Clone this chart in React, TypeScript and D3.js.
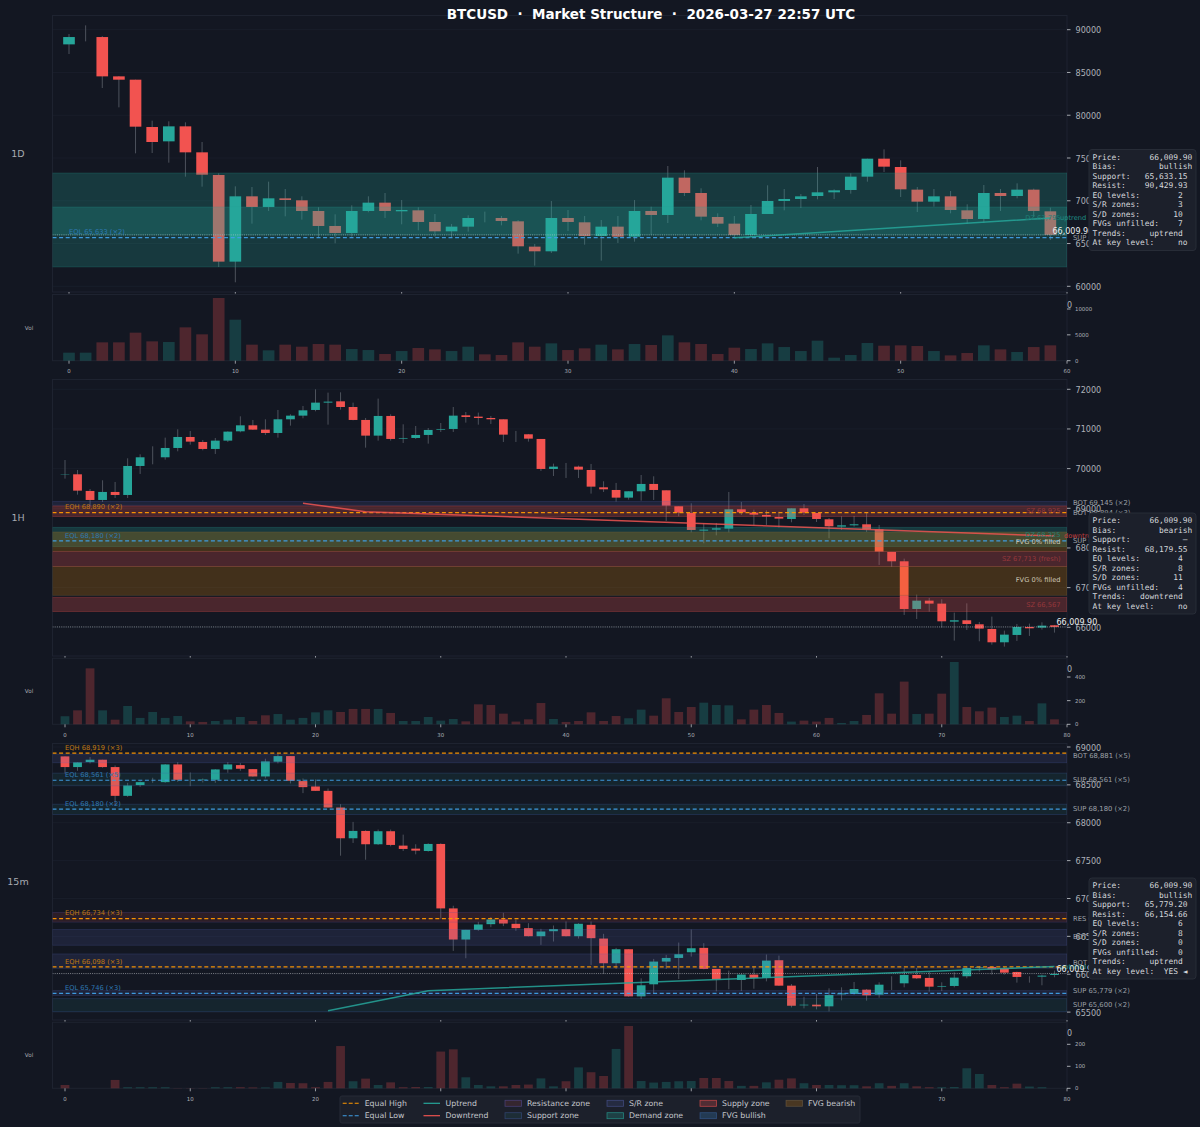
import React from 'react';
import * as d3 from 'd3';

// ---------- 1D ----------
const open1D = [88285,89142,89142,84545,84156,78623,76948,78701,75662,73013,62883,70519,69273,70286,70052,68805,67052,66234,68805,69779,68766,68883,67520,66428,66974,67987,67987,67597,64636,64091,67987,67481,65883,66974,65805,68805,68338,72701,70909,68104,67325,66000,68454,69974,70208,70558,70987,71260,72818,74922,73948,71299,69896,70519,68883,67870,70909,70558,71299,68766];
const high1D = [89493,90506,89259,84584,84156,79364,79286,79169,76870,73208,71688,71610,72234,71377,70519,69234,68415,69467,70519,70909,70091,69234,68454,67286,68299,68727,68221,67753,64948,69974,68922,68221,67753,68221,70091,69311,74065,73558,71455,68532,68221,69506,71805,71377,70792,73948,71338,73208,74922,76013,74727,71610,71377,71143,69584,71844,71377,72039,71416,69194];
const low1D = [87155,88636,83182,80922,75545,75584,74454,72818,71649,62260,60467,67325,68805,68182,67792,65649,65026,65805,68649,67987,67247,66545,65805,65688,66390,67481,67130,63818,62415,63896,66467,64870,62999,65065,65220,66040,67403,70558,67714,66935,65727,65766,68454,68883,69156,70169,70208,70831,72234,73363,70442,68688,69311,68532,67325,67403,68805,70286,68143,65416];
const close1D = [89142,89142,84545,84156,78662,76870,78701,75662,73052,62883,70519,69273,70286,70091,68805,67052,66234,68805,69779,68805,68922,67520,66428,66974,67987,67987,67637,64675,64091,67987,67520,65883,66974,65805,68805,68338,72701,70909,68143,67325,66000,68454,69974,70208,70519,70987,71221,72818,74922,73987,71338,69896,70519,68922,67870,70909,70558,71299,68805,66010];
const vol1D = [1550,1550,3550,3550,5420,3740,3610,6450,5100,12130,7930,3100,2000,3100,2710,3225,3100,2260,2060,1290,1870,2450,2190,1870,2710,1225,1100,3550,2710,3350,2060,2390,3100,2190,3225,3030,4900,3550,3225,1290,2515,2260,3350,2640,1870,3870,580,1100,3420,2900,2970,2840,1870,1030,1480,2970,2190,1680,2640,2970];
const volUp1D = [1,1,0,0,0,0,1,0,0,0,1,0,1,0,0,0,0,1,1,0,1,0,0,1,1,0,0,0,0,1,0,0,1,0,1,0,1,0,0,0,0,1,1,1,1,1,1,1,1,0,0,0,1,0,0,1,0,1,0,0];

// ---------- 1H ----------
const open1H = [69849,69857,69437,69210,69412,69336,70067,70286,70286,70521,70798,70672,70496,70706,70941,71092,70983,70899,71244,71336,71479,71664,71697,71554,71227,70832,71328,70756,70773,70849,70975,71000,71344,71311,71277,71244,70857,70866,70748,69992,70050,70050,69966,69529,69462,69269,69429,69614,69454,69050,68882,68437,68462,68487,68975,68891,68832,68781,68731,69000,68882,68723,68538,68571,68597,68470,67899,67664,66462,66672,66597,66143,66177,66076,65958,65622,65807,66008,65992,66051];
const high1H = [70218,69966,69487,69706,69664,70260,70361,70563,70781,70992,70950,70723,70773,70941,71319,71227,71244,71479,71370,71580,72000,71916,71924,71664,71277,71765,71370,71118,71075,71025,71151,71554,71428,71412,71328,71244,70950,70874,70748,70126,70143,70076,70118,69681,69639,69429,69840,69807,69454,69050,69126,68622,68630,69412,69160,68966,68950,68916,69000,69109,68882,68756,68798,68807,68891,68580,67899,67731,66824,66740,66706,66370,66604,66135,66269,65916,66084,66093,66126,66059];
const low1H = [69748,69344,69042,69160,69260,69260,69866,70109,70227,70437,70605,70462,70370,70672,70916,70975,70849,70781,71084,71269,71445,71109,71487,71218,70529,70706,70706,70647,70748,70630,70924,70924,71160,71109,71126,70672,70672,70681,69941,69815,69765,69765,69370,69412,69168,69218,69193,69210,68681,68798,68395,68118,68319,68395,68832,68563,68580,68513,68647,68832,68655,68244,68454,68538,68403,67572,67521,66311,66210,66395,65992,65664,65933,65647,65563,65513,65656,65782,65942,65866];
const close1H = [69857,69445,69210,69412,69336,70067,70286,70286,70521,70798,70681,70496,70706,70933,71092,70983,70899,71244,71336,71470,71664,71689,71554,71227,70832,71328,70748,70773,70849,70975,70992,71336,71302,71277,71244,70857,70857,70756,69992,70050,70050,69975,69546,69479,69269,69429,69614,69462,69067,68891,68454,68462,68496,68975,68899,68840,68790,68740,69000,68891,68731,68546,68571,68597,68470,67908,67664,66462,66672,66597,66151,66177,66084,65967,65622,65815,66008,65975,66042,66010];
const vol1H = [68,118,473,118,39,155,54,104,54,70,25,20,28,39,62,28,76,87,39,54,101,118,104,130,130,130,96,28,28,62,31,45,25,169,163,90,23,42,180,45,20,28,101,28,70,51,124,73,220,104,146,183,163,160,42,124,163,96,23,31,23,54,11,28,79,262,90,361,87,90,259,527,146,110,141,62,73,28,177,42];
const volUp1H = [1,0,0,1,0,1,1,1,1,1,0,0,1,1,1,0,0,1,1,1,1,1,0,0,0,1,0,1,1,1,1,1,0,0,0,0,0,0,0,1,0,0,0,0,0,1,1,0,0,0,0,1,1,1,0,0,0,0,1,0,0,0,1,1,0,0,0,0,1,0,0,1,0,0,0,1,1,0,1,0];

// ---------- 15m ----------
const open15 = [68876,68735,68801,68832,68735,68355,68497,68536,68536,68770,68567,68567,68567,68704,68761,68708,68611,68806,68880,68550,68479,68421,68201,67795,67892,67716,67888,67698,67658,67627,67720,66869,66458,66586,66661,66723,66666,66608,66502,66568,66595,66502,66652,66471,66145,66330,65708,65867,66167,66215,66290,66348,66070,65933,65924,65995,65951,66185,65849,65589,65598,65576,65734,65739,65796,65730,65862,65880,65990,65951,65836,65845,65973,66083,66096,66079,66030,65964,65968,65990];
const high15 = [68876,68797,68867,68832,68757,68527,68545,68594,68775,68801,68664,68585,68708,68801,68788,68708,68845,68907,68880,68585,68572,68452,68245,68011,67901,67910,67910,67843,67716,67729,67729,66904,66586,66692,66754,66811,66723,66674,66599,66643,66696,66674,66696,66533,66348,66330,65946,66202,66255,66418,66590,66410,66070,66048,66004,66101,66260,66246,65871,65703,65739,65814,65827,65898,65805,65893,65973,66083,66083,66039,65893,66026,66092,66109,66101,66092,66034,65973,65995,66048];
const low15 = [68651,68686,68783,68726,68232,68342,68474,68527,68527,68541,68483,68532,68527,68660,68686,68607,68585,68783,68519,68391,68421,68201,67565,67733,67512,67707,67689,67627,67583,67618,66732,66308,66211,66573,66621,66635,66573,66498,66388,66432,66498,66471,66123,66004,66070,65703,65673,65743,66070,65937,66233,66065,65774,65801,65779,65809,65906,65845,65562,65549,65536,65509,65655,65730,65651,65690,65792,65827,65937,65770,65779,65827,65946,66034,65995,65995,65889,65889,65854,65960];
const close15 = [68735,68797,68832,68735,68355,68492,68536,68536,68770,68567,68567,68572,68704,68770,68713,68611,68810,68880,68554,68470,68421,68201,67795,67892,67716,67888,67707,67654,67632,67720,66869,66458,66586,66657,66723,66670,66608,66502,66564,66595,66502,66666,66476,66145,66330,65708,65854,66167,66215,66264,66343,66070,65933,65933,65995,65951,66180,65849,65584,65598,65576,65726,65748,65805,65721,65862,65862,65990,65946,65836,65845,65955,66083,66092,66065,66021,65964,65964,65982,66004];
const vol15 = [15,0,0,0,38,5,5,5,5,1,1,1,5,5,5,4,4,29,24,23,5,29,192,32,44,15,27,5,6,6,167,177,50,15,9,9,15,17,45,9,32,95,73,56,179,283,33,26,29,32,33,47,47,33,11,11,27,39,45,23,15,15,14,14,9,23,11,23,9,5,5,6,91,65,15,5,21,8,5,0];
const volUp15 = [0,0,0,0,0,1,1,1,1,0,0,0,1,1,0,0,1,1,0,0,0,0,0,1,0,1,0,0,0,1,0,0,1,1,1,0,0,0,1,1,0,1,0,0,1,0,1,1,1,1,1,0,0,0,1,0,1,0,0,1,0,1,1,1,0,1,0,1,0,0,1,1,1,1,0,0,0,1,1,0];

// ---------- overlays ----------
const zones1D = [{ lo: 62260, hi: 73247, kind: 'demand' }, { lo: 66000, hi: 69273, kind: 'demand' }];
const zones1H = [
  { lo: 69076, hi: 69176, kind: 'sr' }, { lo: 68790, hi: 69059, kind: 'supply' },
  { lo: 68034, hi: 68521, kind: 'demand' }, { lo: 67916, hi: 68403, kind: 'fvgBear' },
  { lo: 67530, hi: 67908, kind: 'supply' }, { lo: 66807, hi: 67530, kind: 'fvgBear' },
  { lo: 66395, hi: 66757, kind: 'supply' },
];
const zones15 = [
  { lo: 68792, hi: 68907, kind: 'sr' }, { lo: 68488, hi: 68655, kind: 'support' },
  { lo: 68108, hi: 68245, kind: 'support' }, { lo: 66688, hi: 66816, kind: 'resistance' },
  { lo: 66383, hi: 66590, kind: 'sr' }, { lo: 66079, hi: 66268, kind: 'sr' },
  { lo: 65721, hi: 65783, kind: 'sr' }, { lo: 65505, hi: 65677, kind: 'support' },
];
const eq1D = [{ price: 65688, kind: 'low', label: 'EQL 65,633 (×2)' }];
const eq1H = [
  { price: 68890, kind: 'high', label: 'EQH 68,890 (×2)' },
  { price: 68180, kind: 'low', label: 'EQL 68,180 (×2)' },
];
const eq15 = [
  { price: 68919, kind: 'high', label: 'EQH 68,919 (×3)' },
  { price: 68561, kind: 'low', label: 'EQL 68,561 (×5)' },
  { price: 68180, kind: 'low', label: 'EQL 68,180 (×2)' },
  { price: 66734, kind: 'high', label: 'EQH 66,734 (×3)' },
  { price: 66098, kind: 'high', label: 'EQH 66,098 (×3)' },
  { price: 65746, kind: 'low', label: 'EQL 65,746 (×3)' },
];
const trend1D = [[40, 65688], [42, 65920], [59, 67987]];
const trend1H = [[19, 69126], [24, 68916], [79, 68302]];
const trend15 = [[21, 65518], [29, 65783], [79, 66101]];
const sideLabels1D = [{ price: 65633, text: 'SUP 65,633 (×2)' }];
const sideLabels1H = [
  { price: 69145, text: 'BOT 69,145 (×2)' }, { price: 68894, text: 'BOT 68,894 (×3)' },
  { price: 68180, text: 'SUP 68,180 (×2)' },
];
const sideLabels15 = [
  { price: 68881, text: 'BOT 68,881 (×5)' }, { price: 68561, text: 'SUP 68,561 (×5)' },
  { price: 68180, text: 'SUP 68,180 (×2)' }, { price: 66734, text: 'RES 66,734 (×3)' },
  { price: 66487, text: 'BOT 66,487 (×2)' }, { price: 66154, text: 'BOT 66,154 (×3)' },
  { price: 65779, text: 'SUP 65,779 (×2)' }, { price: 65600, text: 'SUP 65,600 (×2)' },
];
const zoneLabels1D = [{ price: 67987, text: 'DZ 67,795', kind: 'demand' }];
const zoneLabels1H = [
  { price: 68925, text: 'SZ 68,925', kind: 'supply' },
  { price: 68325, text: 'DZ 68,325', kind: 'demand' },
  { price: 68150, text: 'FVG 0% filled', kind: 'fvg' },
  { price: 67713, text: 'SZ 67,713 (fresh)', kind: 'supply' },
  { price: 67180, text: 'FVG 0% filled', kind: 'fvg' },
  { price: 66567, text: 'SZ 66,567', kind: 'supply' },
];
const info1D = ['Price:      66,009.90', 'Bias:         bullish', 'Support:   65,633.15', 'Resist:    90,429.93', 'EQ levels:        2', 'S/R zones:        3', 'S/D zones:       10', 'FVGs unfilled:    7', 'Trends:     uptrend', 'At key level:     no'];
const info1H = ['Price:      66,009.90', 'Bias:         bearish', 'Support:           —', 'Resist:    68,179.55', 'EQ levels:        4', 'S/R zones:        8', 'S/D zones:       11', 'FVGs unfilled:    4', 'Trends:   downtrend', 'At key level:     no'];
const info15 = ['Price:      66,009.90', 'Bias:         bullish', 'Support:   65,779.20', 'Resist:    66,154.66', 'EQ levels:        6', 'S/R zones:        8', 'S/D zones:        0', 'FVGs unfilled:    0', 'Trends:     uptrend', 'At key level:  YES ◄'];
const lastPrice = 66009.9;
const titleText = 'BTCUSD  ·  Market Structure  ·  2026-03-27 22:57 UTC';

const legendItems = [
  [{ t: 'Equal High', k: 'eqh' }, { t: 'Equal Low', k: 'eql' }],
  [{ t: 'Uptrend', k: 'up' }, { t: 'Downtrend', k: 'down' }],
  [{ t: 'Resistance zone', k: 'resistance' }, { t: 'Support zone', k: 'support' }],
  [{ t: 'S/R zone', k: 'sr' }, { t: 'Demand zone', k: 'demand' }],
  [{ t: 'Supply zone', k: 'supply' }, { t: 'FVG bullish', k: 'fvgBull' }],
  [{ t: 'FVG bearish', k: 'fvgBear' }],
];

// ---------- styling ----------
const BG = '#131722';
const UP = '#26a69a';
const DOWN = '#f25350';
const GRID = '#1b202c';
const FRAME = '#1e2330';
const TICK = '#adb1b8';
const SANS = '"DejaVu Sans", sans-serif';
const MONO = '"DejaVu Sans Mono", monospace';
const zoneStyle: Record<string, { fill: string; stroke: string }> = {
  demand: { fill: 'rgba(38,166,154,0.24)', stroke: 'rgba(38,166,154,0.25)' },
  supply: { fill: 'rgba(239,83,80,0.25)', stroke: 'rgba(239,83,80,0.3)' },
  fvgBear: { fill: 'rgba(255,152,0,0.2)', stroke: 'rgba(120,100,60,0.4)' },
  fvgBull: { fill: 'rgba(66,165,245,0.2)', stroke: 'rgba(66,120,200,0.4)' },
  sr: { fill: 'rgba(92,107,192,0.15)', stroke: 'rgba(92,107,192,0.25)' },
  support: { fill: 'rgba(38,166,154,0.1)', stroke: 'rgba(70,100,180,0.3)' },
  resistance: { fill: 'rgba(239,83,80,0.12)', stroke: 'rgba(92,80,160,0.3)' },
};
const zoneTextColor: Record<string, string> = { supply: '#97383c', demand: '#1f7f78', fvg: '#cfc8b6' };

const X_LEFT = 52.5;
const X_RIGHT = 1067;

type PanelProps = {
  label: string; o: number[]; h: number[]; l: number[]; c: number[]; v: number[]; vUp: number[];
  maxIdx: number;
  top: number; bottom: number; volTop: number; volBottom: number;
  priceDomain: [number, number]; priceRange: [number, number]; priceTicks: number[];
  volDomain: [number, number]; volRange: [number, number]; volTicks: number[];
  zones: { lo: number; hi: number; kind: string }[];
  eq: { price: number; kind: string; label: string }[];
  trend: number[][]; trendDir: 'up' | 'down';
  side: { price: number; text: string }[];
  zoneLabels: { price: number; text: string; kind: string }[];
  priceLabelY: number; priceLabelX: number;
};

function Panel(p: PanelProps) {
  const x = d3.scaleLinear().domain([0, p.maxIdx]).range([p.maxIdx === 60 ? 69 : 65, X_RIGHT]);
  const y = d3.scaleLinear().domain(p.priceDomain).range(p.priceRange);
  const yv = d3.scaleLinear().domain(p.volDomain).range(p.volRange);
  const step = x(1) - x(0);
  const bw = step * 0.7;
  const xTicks = d3.range(0, p.maxIdx + 1, 10);
  const clipId = 'clip' + p.label;
  const w = X_RIGHT - X_LEFT;
  const trendPath = d3.line<number[]>().x((d) => x(d[0])).y((d) => y(d[1]))(p.trend) || '';
  const lastT = p.trend[p.trend.length - 1];
  const tcol = p.trendDir === 'up' ? UP : '#ef5350';
  return (
    <g>
      <clipPath id={clipId}><rect x={X_LEFT} y={p.top} width={w} height={p.bottom - p.top} /></clipPath>
      {/* grid */}
      {p.priceTicks.map((t) => (
        <line key={t} x1={X_LEFT} x2={X_RIGHT} y1={y(t)} y2={y(t)} stroke={GRID} strokeWidth={0.8} />
      ))}
      <rect x={X_LEFT} y={p.top} width={w} height={p.bottom - p.top} fill="none" stroke={FRAME} />
      <rect x={X_LEFT} y={p.volTop} width={w} height={p.volBottom - p.volTop} fill="none" stroke={FRAME} />
      {/* candles */}
      <g clipPath={`url(#${clipId})`}>
        {p.o.map((open, i) => {
          const close = p.c[i];
          const up = close >= open;
          const col = up ? UP : DOWN;
          const t = y(Math.max(open, close));
          const b = y(Math.min(open, close));
          return (
            <g key={i}>
              <line x1={x(i)} x2={x(i)} y1={y(p.h[i])} y2={y(p.l[i])} stroke="#4d525c" strokeWidth={1} />
              {b - t > 0 && <rect x={x(i) - bw / 2} y={t} width={bw} height={b - t} fill={col} />}
            </g>
          );
        })}
        {/* zones */}
        {p.zones.map((z, i) => (
          <rect key={i} x={X_LEFT} width={w} y={y(z.hi)} height={y(z.lo) - y(z.hi)}
            fill={zoneStyle[z.kind].fill} stroke={zoneStyle[z.kind].stroke} strokeWidth={0.8} />
        ))}
        {/* last price */}
        <line x1={X_LEFT} x2={X_RIGHT} y1={y(lastPrice)} y2={y(lastPrice)} stroke="#d6d8dc" strokeOpacity={0.6} strokeWidth={0.9} strokeDasharray="1 1.2" />
        {/* equal levels */}
        {p.eq.map((e, i) => (
          <g key={i}>
            <line x1={X_LEFT} x2={X_RIGHT} y1={y(e.price)} y2={y(e.price)}
              stroke={e.kind === 'high' ? '#ff9800' : '#3f9fe6'} strokeOpacity={0.95} strokeWidth={1.2} strokeDasharray="4 2.6" />
          </g>
        ))}
        {/* trend */}
        <path d={trendPath} fill="none" stroke={tcol} strokeOpacity={0.85} strokeWidth={1.5} />
      </g>
      {p.eq.map((e, i) => (
        <text key={i} x={x(0)} y={y(e.price) - 3.2} fontFamily={SANS} fontSize={6.7}
          fill={e.kind === 'high' ? '#c07a12' : '#2f7ab5'}>{e.label}</text>
      ))}
      {p.zoneLabels.map((z, i) => (
        <text key={i} x={1060.5} y={y(z.price)} textAnchor="end" dominantBaseline="central" fontFamily={SANS} fontSize={6.7}
          fill={zoneTextColor[z.kind]}>{z.text}</text>
      ))}
      <text x={p.trendDir === 'up' ? 1060 : 1064} y={y(lastT[1]) + 0.5} dominantBaseline="central" fontFamily={SANS} fontSize={6.7}
        fill={p.trendDir === 'up' ? '#1f8f85' : '#c23f3f'}>{p.trendDir === 'up' ? 'uptrend' : 'downtrend'}</text>
      {/* y axis */}
      {p.priceTicks.map((t) => (
        <g key={t}>
          <line x1={X_RIGHT} x2={X_RIGHT + 3.5} y1={y(t)} y2={y(t)} stroke="#c8cbd0" strokeWidth={0.8} />
          <text x={X_RIGHT + 8.5} y={y(t) + 0.5} dominantBaseline="central" fontFamily={SANS} fontSize={8.1} fill={TICK}>{t}</text>
        </g>
      ))}
      {p.side.map((s, i) => (
        <text key={i} x={1073} y={y(s.price)} dominantBaseline="central" fontFamily={SANS} fontSize={6.8} fill="#9da1a8">{s.text}</text>
      ))}
      <text x={p.priceLabelX} y={p.priceLabelY} dominantBaseline="central" fontFamily={SANS} fontSize={8} fill="#eceef0">66,009.90</text>
      {/* panel name */}
      <text x={18} y={(p.top + p.bottom) / 2} textAnchor="middle" dominantBaseline="central" fontFamily={SANS} fontSize={9.5} fill="#a6aab1">{p.label}</text>
      {/* x ticks on main */}
      {xTicks.map((t) => (
        <line key={t} x1={x(t)} x2={x(t)} y1={p.bottom} y2={p.bottom + 1.6} stroke="#b8bbc0" strokeWidth={0.8} />
      ))}
      {/* volume */}
      {p.v.map((val, i) => (
        <rect key={i} x={x(i) - bw / 2} y={yv(val)} width={bw} height={yv(0) - yv(val)}
          fill={p.vUp[i] ? UP : DOWN} fillOpacity={0.27} />
      ))}
      {xTicks.map((t) => (
        <g key={t}>
          <line x1={x(t)} x2={x(t)} y1={p.volBottom} y2={p.volBottom + 3} stroke="#b8bbc0" strokeWidth={0.8} />
          <text x={x(t)} y={p.volBottom + 10.5} textAnchor="middle" dominantBaseline="central" fontFamily={SANS} fontSize={5.4} fill={TICK}>{t}</text>
        </g>
      ))}
      {p.volTicks.map((t) => (
        <g key={t}>
          <line x1={X_RIGHT} x2={X_RIGHT + 3.5} y1={yv(t)} y2={yv(t)} stroke="#c8cbd0" strokeWidth={0.8} />
          <text x={X_RIGHT + 8} y={yv(t)} dominantBaseline="central" fontFamily={SANS} fontSize={5.4} fill={TICK}>{t}</text>
        </g>
      ))}
      <text x={X_RIGHT} y={p.volTop + 10.8} dominantBaseline="central" fontFamily={SANS} fontSize={8} fill={TICK}>0</text>
      <text x={29} y={(p.volTop + p.volBottom) / 2} textAnchor="middle" dominantBaseline="central" fontFamily={SANS} fontSize={5.6} fill="#a6aab1">Vol</text>
    </g>
  );
}

function InfoBox({ lines, top }: { lines: string[]; top: number }) {
  const lineH = 9.5;
  return (
    <g>
      <rect x={1089} y={top} width={107} height={101} rx={3} fill="#1c202b" stroke="#272c37" strokeWidth={1} />
      {lines.map((s, i) => (
        <text key={i} x={1092.5} y={top + 7.7 + i * lineH} dominantBaseline="central" fontFamily={MONO} fontSize={7.9}
          fill="#d6d8dc" style={{ whiteSpace: 'pre' }} xmlSpace="preserve">{s}</text>
      ))}
    </g>
  );
}

function Legend() {
  const colX = [342.7, 423.5, 505, 607, 700, 786];
  const rowY = [1103.3, 1115.7];
  return (
    <g>
      <rect x={340} y={1096} width={520} height={27} rx={2} fill="#1c202b" stroke="#262b36" />
      {legendItems.map((col, ci) => col.map((it, ri) => {
        const x0 = colX[ci];
        const yy = rowY[ri];
        let handle;
        if (it.k === 'eqh' || it.k === 'eql') {
          handle = <line x1={x0} x2={x0 + 16.5} y1={yy} y2={yy} stroke={it.k === 'eqh' ? '#ff9800' : '#3f9fe6'} strokeWidth={1.1} strokeDasharray="4 2" />;
        } else if (it.k === 'up' || it.k === 'down') {
          handle = <line x1={x0} x2={x0 + 16.5} y1={yy} y2={yy} stroke={it.k === 'up' ? UP : '#ef5350'} strokeWidth={1.2} />;
        } else {
          const sMap: Record<string, string> = {
            demand: 'rgba(38,166,154,0.7)', supply: 'rgba(239,83,80,0.7)', fvgBear: 'rgba(130,110,80,0.5)', fvgBull: 'rgba(66,120,200,0.45)',
            sr: 'rgba(92,107,192,0.5)', support: 'rgba(70,100,180,0.45)', resistance: 'rgba(92,80,160,0.6)',
          };
          handle = <rect x={x0} y={yy - 3} width={16.5} height={6} fill={zoneStyle[it.k].fill} stroke={sMap[it.k]} strokeWidth={0.8} />;
        }
        return (
          <g key={it.k}>
            {handle}
            <text x={x0 + 22} y={yy} dominantBaseline="central" fontFamily={SANS} fontSize={7.8} fill="#c3c6cb">{it.t}</text>
          </g>
        );
      }))}
    </g>
  );
}

export default function App() {
  return (
    <svg width={1200} height={1127} viewBox="0 0 1200 1127" style={{ position: 'absolute', left: 0, top: 0, display: 'block' }}>
      <rect x={0} y={0} width={1200} height={1127} fill={BG} />
      <Panel label="1D" o={open1D} h={high1D} l={low1D} c={close1D} v={vol1D} vUp={volUp1D} maxIdx={60}
        top={15.5} bottom={292} volTop={294.5} volBottom={360.7}
        priceDomain={[60000, 90000]} priceRange={[286.3, 29.7]} priceTicks={[60000, 65000, 70000, 75000, 80000, 85000, 90000]}
        volDomain={[0, 10000]} volRange={[360.7, 309]} volTicks={[0, 5000, 10000]}
        zones={zones1D} eq={eq1D} trend={trend1D} trendDir="up" side={sideLabels1D} zoneLabels={zoneLabels1D}
        priceLabelX={1052.5} priceLabelY={231} />
      <Panel label="1H" o={open1H} h={high1H} l={low1H} c={close1H} v={vol1H} vUp={volUp1H} maxIdx={80}
        top={379.5} bottom={656} volTop={658.3} volBottom={724.3}
        priceDomain={[66000, 72000]} priceRange={[627.3, 389.3]} priceTicks={[66000, 67000, 68000, 69000, 70000, 71000, 72000]}
        volDomain={[0, 400]} volRange={[724.3, 677]} volTicks={[0, 200, 400]}
        zones={zones1H} eq={eq1H} trend={trend1H} trendDir="down" side={sideLabels1H} zoneLabels={zoneLabels1H}
        priceLabelX={1056.5} priceLabelY={622} />
      <Panel label="15m" o={open15} h={high15} l={low15} c={close15} v={vol15} vUp={volUp15} maxIdx={80}
        top={743.5} bottom={1020} volTop={1022.3} volBottom={1088.3}
        priceDomain={[65500, 69000]} priceRange={[1012.1, 747]} priceTicks={[65500, 66000, 66500, 67000, 67500, 68000, 68500, 69000]}
        volDomain={[0, 200]} volRange={[1088.3, 1044.3]} volTicks={[0, 100, 200]}
        zones={zones15} eq={eq15} trend={trend15} trendDir="up" side={sideLabels15} zoneLabels={[]}
        priceLabelX={1056.5} priceLabelY={969} />
      <InfoBox lines={info1D} top={149.5} />
      <InfoBox lines={info1H} top={513} />
      <InfoBox lines={info15} top={878} />
      <Legend />
      <text x={651} y={13.5} textAnchor="middle" dominantBaseline="central" fontFamily={SANS} fontWeight="bold" fontSize={13.5} fill="#ffffff" style={{ whiteSpace: 'pre' }} xmlSpace="preserve">{titleText}</text>
    </svg>
  );
}
